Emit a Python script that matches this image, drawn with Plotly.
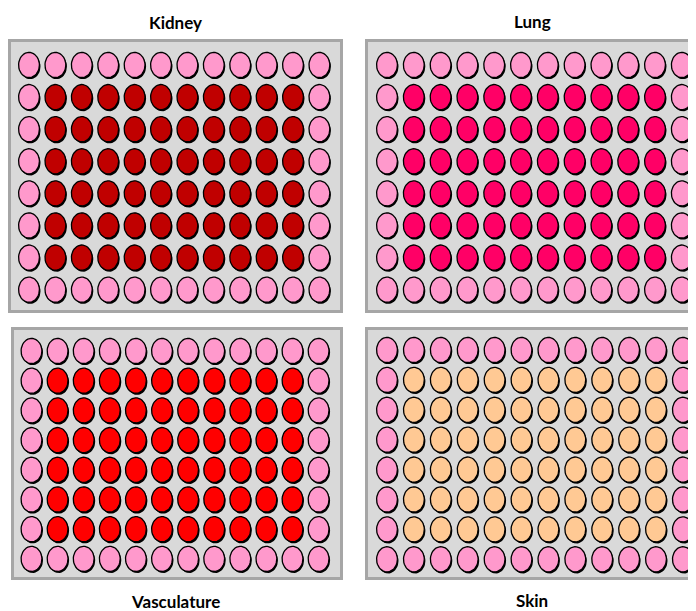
import numpy as np
import plotly.graph_objects as go

# ---------------- data ----------------
panel_names = ["Kidney", "Lung", "Vasculature", "Skin"]
interior_colors = ["#c00000", "#ff0066", "#ff0000", "#ffc994"]
edge_color = "#ff99cc"
row_labels = ["A", "B", "C", "D", "E", "F", "G", "H"]
col_labels = [1, 2, 3, 4, 5, 6, 7, 8, 9, 10, 11, 12]
# E = edge well (pink), I = interior well (tissue colour)
plate_layout = [
    "EEEEEEEEEEEE",
    "EIIIIIIIIIIE",
    "EIIIIIIIIIIE",
    "EIIIIIIIIIIE",
    "EIIIIIIIIIIE",
    "EIIIIIIIIIIE",
    "EIIIIIIIIIIE",
    "EEEEEEEEEEEE",
]

# ---------------- layout / style ----------------
W, H = 696, 611
OFF = 8  # page body margin: window px = figure px + 8
# inner panel box in window pixels (x0, x1, y0, y1), first well centre and pitch (px)
panel_box = [(11, 340, 42, 310), (368, 700, 42, 310),
             (13.5, 340, 330, 577), (368, 700, 330, 577)]
panel_grid = [(29, 26.4, 65, 32.1), (387, 26.8, 65, 32.1),
              (31.5, 26.1, 351, 29.7), (387, 26.9, 350, 29.9)]
title_pos = [(175, 22), (532, 21), (175, 601), (532, 600)]
well_rx, well_ry = 10.4, 12.6       # px semi axes
shadow_dx, shadow_dy = 1.1, 1.6     # px
t = np.linspace(0, 2 * np.pi, 40)

fig = go.Figure()
for i, name in enumerate(panel_names):
    x0, x1, y0, y1 = [v - OFF for v in panel_box[i]]
    cx0, pxp, cy0, pyp = panel_grid[i]
    cx0 -= OFF
    cy0 -= OFF
    xa = "x" if i == 0 else f"x{i+1}"
    ya = "y" if i == 0 else f"y{i+1}"
    xkey = "xaxis" if i == 0 else f"xaxis{i+1}"
    ykey = "yaxis" if i == 0 else f"yaxis{i+1}"
    fig.layout[xkey] = dict(
        domain=[x0 / W, min(x1 / W, 1)],
        range=[1 + (x0 - cx0) / pxp, 1 + (x1 - cx0) / pxp],
        showgrid=False, zeroline=False, showticklabels=False, ticks="",
        showline=True, mirror=True, linecolor="#a6a6a6", linewidth=3,
        anchor=ya, fixedrange=True)
    fig.layout[ykey] = dict(
        domain=[1 - y1 / H, 1 - y0 / H],
        range=[1 + (y1 - cy0) / pyp, 1 + (y0 - cy0) / pyp],
        showgrid=False, zeroline=False, showticklabels=False, ticks="",
        showline=True, mirror=True, linecolor="#a6a6a6", linewidth=3,
        anchor=xa, fixedrange=True)

    rx, ry = well_rx / pxp, well_ry / pyp
    sdx, sdy = shadow_dx / pxp, shadow_dy / pyp
    groups = {"E": ([], []), "I": ([], [])}
    shx, shy = [], []
    for r, rl in enumerate(row_labels):
        for c, cl in enumerate(col_labels):
            kind = plate_layout[r][c]
            ex = cl + rx * np.cos(t)
            ey = (r + 1) + ry * np.sin(t)
            groups[kind][0].extend(list(ex) + [None])
            groups[kind][1].extend(list(ey) + [None])
            shx.extend(list(ex + sdx) + [None])
            shy.extend(list(ey + sdy) + [None])
    fig.add_trace(go.Scatter(x=shx, y=shy, mode="lines", fill="toself",
                             fillcolor="#000000", line=dict(width=0, color="#000000"),
                             xaxis=xa, yaxis=ya, hoverinfo="skip", showlegend=False))
    for kind, col in (("E", edge_color), ("I", interior_colors[i])):
        gx, gy = groups[kind]
        fig.add_trace(go.Scatter(x=gx, y=gy, mode="lines", fill="toself",
                                 fillcolor=col, line=dict(width=1.3, color="#000000"),
                                 xaxis=xa, yaxis=ya, hoverinfo="skip",
                                 showlegend=False, name=name))
    tx, ty = title_pos[i]
    fig.add_annotation(x=(tx - OFF) / W, y=1 - (ty - OFF) / H, xref="paper", yref="paper",
                       text=f"<b>{name}</b>", showarrow=False,
                       font=dict(family="Lato", size=17, color="#000000"),
                       xanchor="center", yanchor="middle")

fig.update_layout(width=W, height=H, margin=dict(l=0, r=0, t=0, b=0),
                  paper_bgcolor="#ffffff", plot_bgcolor="#d9d9d9",
                  showlegend=False)
fig.write_html("out.html")
